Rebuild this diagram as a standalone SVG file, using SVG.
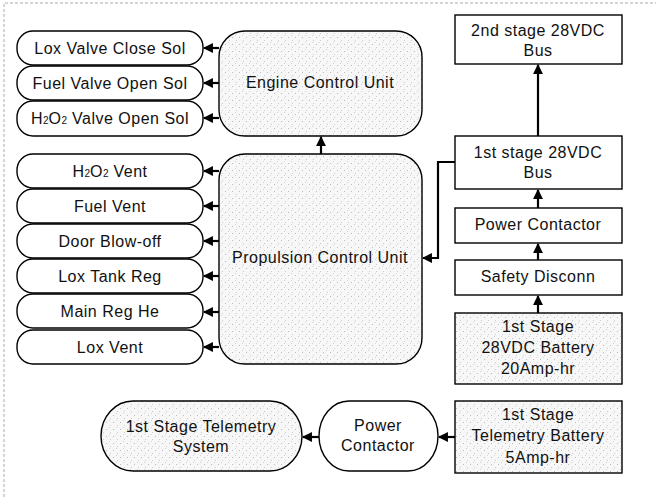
<svg xmlns="http://www.w3.org/2000/svg" width="656" height="497" viewBox="0 0 656 497">
<defs>
<marker id="ah" viewBox="0 0 10 10" refX="9" refY="5" markerWidth="4.5" markerHeight="4.5" markerUnits="strokeWidth" orient="auto">
<path d="M0,0 L10,5 L0,10 z" fill="#000"/>
</marker>
<pattern id="stip" width="7" height="7" patternUnits="userSpaceOnUse">
<rect width="7" height="7" fill="#f7f7f7"/>
<rect x="1" y="2" width="1" height="1" fill="#bbb"/>
<rect x="5" y="5" width="1" height="1" fill="#ccc"/>
<rect x="4" y="0" width="1" height="1" fill="#d4d4d4"/>
</pattern>
</defs>
<style>
.n{fill:#fff;stroke:#000;stroke-width:1.4}
.g{fill:url(#stip);stroke:#000;stroke-width:1.4}
text{font-family:"Liberation Sans",Arial,sans-serif;font-size:16px;letter-spacing:0.5px;fill:#111;text-anchor:middle}
.s{font-size:10px;letter-spacing:0}
.c{fill:none;stroke:#000;stroke-width:2.2;marker-end:url(#ah)}
.frame{stroke:#aaa;stroke-width:1;stroke-dasharray:3 2;fill:none}
</style>
<rect width="656" height="497" fill="#fff"/>
<path class="frame" d="M4,497 V3 H656"/>

<g id="lox-valve-close"><rect class="n" x="17" y="31" width="186" height="34" rx="16"/><text x="110" y="54">Lox Valve Close Sol</text></g>
<g id="fuel-valve-open"><rect class="n" x="17" y="66" width="186" height="34" rx="16"/><text x="110" y="89">Fuel Valve Open Sol</text></g>
<g id="h2o2-valve-open"><rect class="n" x="17" y="101" width="186" height="35" rx="16"/><text x="110" y="124">H<tspan class="s">2</tspan>O<tspan class="s">2</tspan> Valve Open Sol</text></g>

<g id="ecu"><rect class="g" x="219" y="31" width="203" height="105" rx="26"/><text x="320" y="88">Engine Control Unit</text></g>

<g id="h2o2-vent"><rect class="n" x="17" y="154" width="186" height="34" rx="16"/><text x="110" y="177">H<tspan class="s">2</tspan>O<tspan class="s">2</tspan> Vent</text></g>
<g id="fuel-vent"><rect class="n" x="17" y="189" width="186" height="34" rx="16"/><text x="110" y="212">Fuel Vent</text></g>
<g id="door-blow-off"><rect class="n" x="17" y="224" width="186" height="34" rx="16"/><text x="110" y="247">Door Blow-off</text></g>
<g id="lox-tank-reg"><rect class="n" x="17" y="259" width="186" height="34" rx="16"/><text x="110" y="282">Lox Tank Reg</text></g>
<g id="main-reg-he"><rect class="n" x="17" y="294" width="186" height="34" rx="16"/><text x="110" y="317">Main Reg He</text></g>
<g id="lox-vent"><rect class="n" x="17" y="330" width="186" height="34" rx="16"/><text x="110" y="353">Lox Vent</text></g>

<g id="pcu"><rect class="g" x="219" y="154" width="203" height="210" rx="26"/><text x="320" y="263">Propulsion Control Unit</text></g>

<g id="bus2"><rect class="n" x="455" y="15" width="167" height="49"/><text x="538" y="36">2nd stage 28VDC</text><text x="538" y="56">Bus</text></g>
<g id="bus1"><rect class="n" x="455" y="136" width="167" height="53"/><text x="538" y="158">1st stage 28VDC</text><text x="538" y="178">Bus</text></g>
<g id="power-contactor-1"><rect class="n" x="455" y="208" width="167" height="35"/><text x="538" y="230">Power Contactor</text></g>
<g id="safety-disconn"><rect class="n" x="455" y="260" width="167" height="35"/><text x="538" y="282">Safety Disconn</text></g>
<g id="battery-28v"><rect class="g" x="455" y="313" width="167" height="71"/><text x="538" y="332">1st Stage</text><text x="538" y="353">28VDC Battery</text><text x="538" y="374">20Amp-hr</text></g>
<g id="telemetry-battery"><rect class="g" x="455" y="401" width="167" height="72"/><text x="538" y="420">1st Stage</text><text x="538" y="441">Telemetry Battery</text><text x="538" y="463">5Amp-hr</text></g>

<g id="telemetry-system"><rect class="g" x="101" y="401" width="201" height="70" rx="32" ry="35"/><text x="201" y="432">1st Stage Telemetry</text><text x="201" y="452">System</text></g>
<g id="power-contactor-2"><rect class="n" x="319" y="401" width="119" height="70" rx="30" ry="35"/><text x="378" y="431">Power</text><text x="378" y="451">Contactor</text></g>

<g id="connectors">
<path class="c" d="M219,48 H204"/>
<path class="c" d="M219,83 H204"/>
<path class="c" d="M219,118 H204"/>
<path class="c" d="M321,154 V137"/>
<path class="c" d="M219,171 H204"/>
<path class="c" d="M219,206 H204"/>
<path class="c" d="M219,241 H204"/>
<path class="c" d="M219,276 H204"/>
<path class="c" d="M219,312 H204"/>
<path class="c" d="M219,347 H204"/>
<path class="c" d="M455,162 H438 V258 H423"/>
<path class="c" d="M538,136 V65"/>
<path class="c" d="M538,208 V190"/>
<path class="c" d="M538,260 V244"/>
<path class="c" d="M538,313 V296"/>
<path class="c" d="M455,437 H439"/>
<path class="c" d="M319,437 H303"/>
</g>
</svg>
